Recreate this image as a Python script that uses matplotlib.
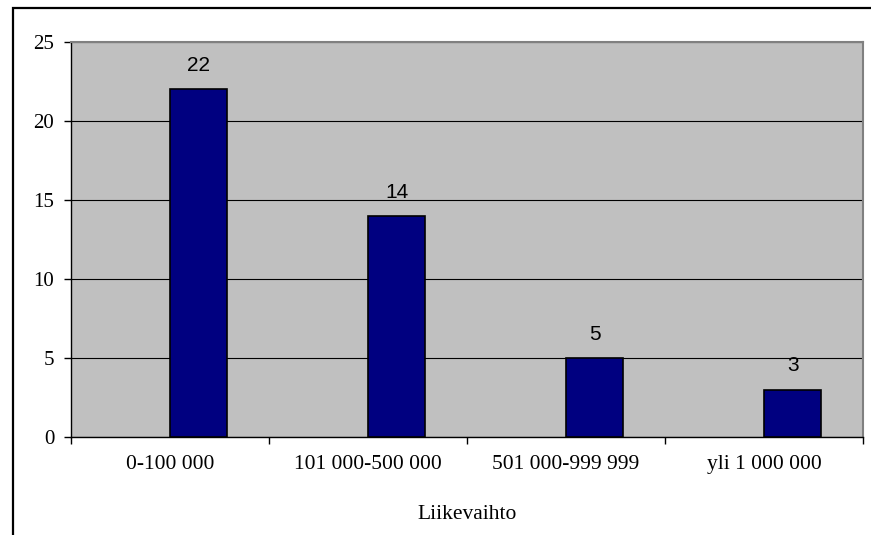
import matplotlib.pyplot as plt
from matplotlib.patches import Rectangle

categories = ["0-100 000", "101 000-500 000", "501 000-999 999", "yli 1 000 000"]
counts = [22, 14, 5, 3]

fig = plt.figure(figsize=(8.71, 5.35), dpi=100)
ax = fig.add_axes([71 / 871, 1 - 437 / 535, 792 / 871, 395 / 535])
ax.set_facecolor("#C0C0C0")

# outer chart frame, cut off at the right and bottom
fig.patches.append(Rectangle((12.5 / 871, -0.2), 1.2, 1.2 - 8 / 535,
                             transform=fig.transFigure, fill=False,
                             edgecolor="black", linewidth=1.6, zorder=0))

x = list(range(len(categories)))
bar_w = 0.29
bars = ax.bar(x, counts, width=bar_w, align="edge", color="#000080",
              edgecolor="black", linewidth=1.2, zorder=3)

for xi, v in zip(x, counts):
    ax.text(xi + bar_w / 2, v + 1.5, str(v), ha="center", va="center",
            fontsize=15, family="Liberation Sans", zorder=4)

ax.set_xlim(-0.5, len(categories) - 0.5)
ax.set_ylim(0, 25)
ax.set_yticks([0, 5, 10, 15, 20, 25])
ax.yaxis.grid(True, color="black", linewidth=0.8, zorder=1)
ax.set_axisbelow(True)

ax.set_xticks(x)
ax.set_xticklabels(categories, family="Liberation Serif", fontsize=15.5)
ax.set_xticks([i - 0.5 for i in range(len(categories) + 1)], minor=True)
ax.tick_params(axis="x", which="major", length=0, pad=13)
ax.tick_params(axis="x", which="minor", length=5, width=1, direction="out")
ax.tick_params(axis="y", length=5, width=1, direction="out", pad=7)
for lab in ax.get_yticklabels():
    lab.set_family("Liberation Serif")
    lab.set_fontsize(15)

ax.set_xlabel("Liikevaihto", family="Liberation Serif", fontsize=15.5, labelpad=22)

for side in ("top", "right"):
    ax.spines[side].set_color("#808080")
    ax.spines[side].set_linewidth(1.5)
for side in ("left", "bottom"):
    ax.spines[side].set_color("black")
    ax.spines[side].set_linewidth(1)

fig.savefig("out.png", dpi=100)
